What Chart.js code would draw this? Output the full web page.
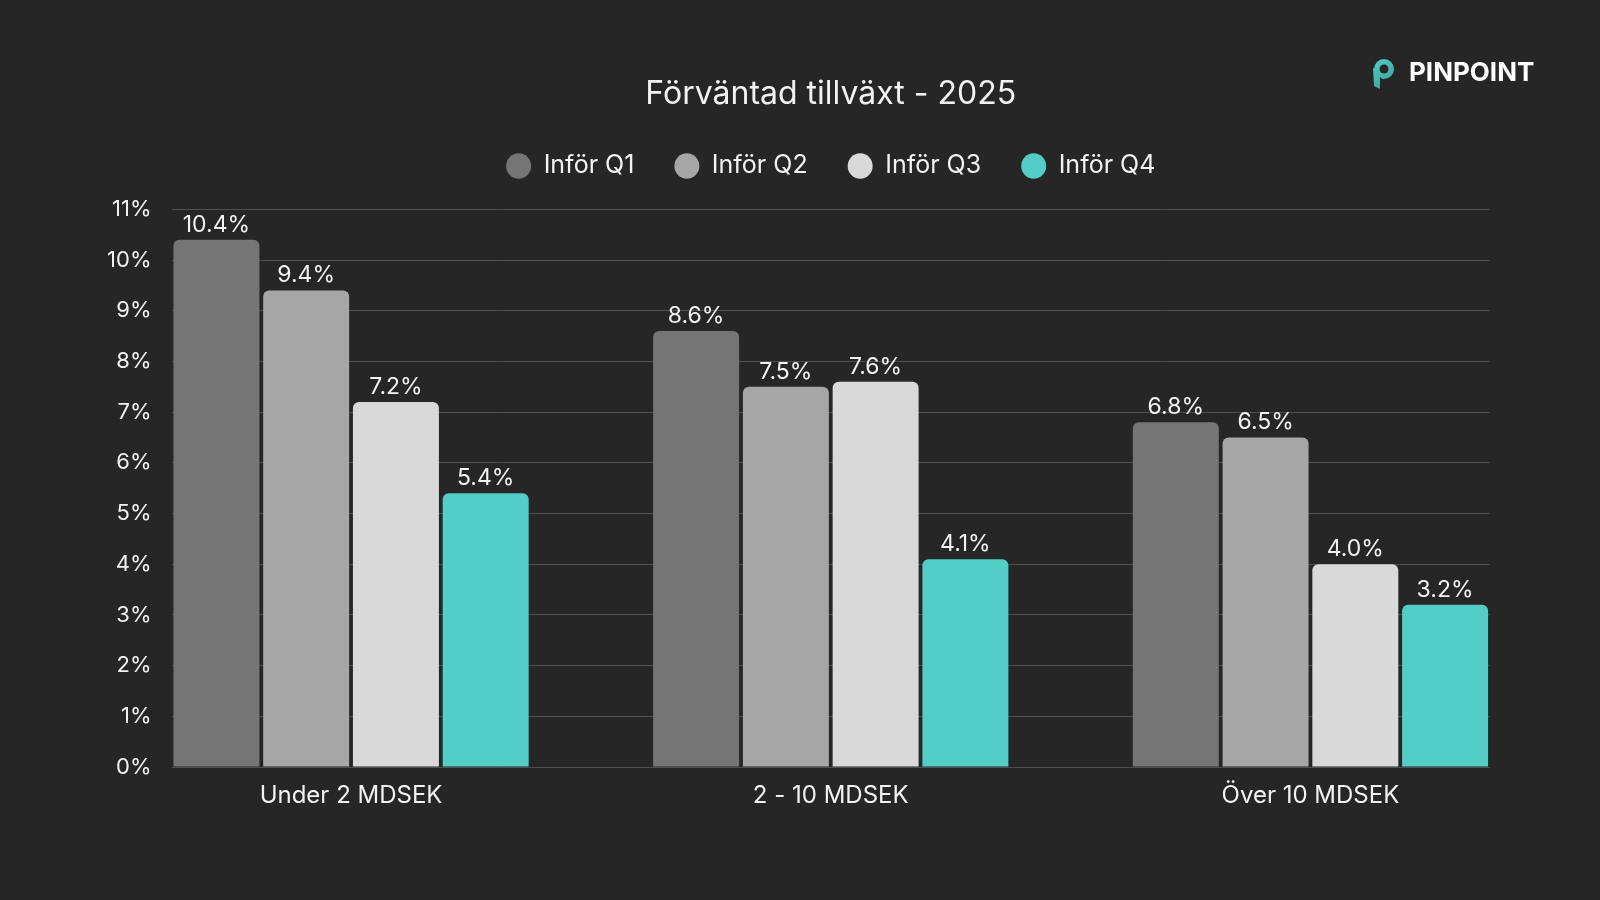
<!DOCTYPE html>
<html>
<head>
<meta charset="utf-8">
<script src="https://cdn.jsdelivr.net/npm/chart.js@4.4.1/dist/chart.umd.min.js"></script>
<style>
  html, body { margin: 0; padding: 0; background: #262626; }
  #wrap { width: 1600px; height: 900px; }
</style>
</head>
<body>
<div id="wrap"><canvas id="c" width="1600" height="900"></canvas></div>
<script>
const categories = ['Under 2 MDSEK', '2 - 10 MDSEK', 'Över 10 MDSEK'];
const seriesNames = ['Inför Q1', 'Inför Q2', 'Inför Q3', 'Inför Q4'];
const q1 = [10.4, 8.6, 6.8];
const q2 = [9.4, 7.5, 6.5];
const q3 = [7.2, 7.6, 4.0];
const q4 = [5.4, 4.1, 3.2];
const yTicks = [0, 1, 2, 3, 4, 5, 6, 7, 8, 9, 10, 11];
const colors = ['#757575', '#a6a6a6', '#d9d9d9', '#52cec6'];

const FONT = 'Inter, "Noto Sans", sans-serif';
const TXT = '#f2f2f2';

const allSeries = [q1, q2, q3, q4];
const datasets = allSeries.map((vals, i) => ({
  label: seriesNames[i],
  data: vals.map((v, j) => ({ x: j, y: v })),
  backgroundColor: colors[i],
  borderWidth: 0,
  borderRadius: 6,
  categoryPercentage: 0.7484,
  barPercentage: 0.958
}));

const valueLabels = {
  id: 'valueLabels',
  afterDatasetsDraw(chart) {
    const ctx = chart.ctx;
    ctx.save();
    ctx.font = '23px ' + FONT;
    ctx.fillStyle = TXT;
    ctx.textAlign = 'center';
    ctx.textBaseline = 'middle';
    chart.data.datasets.forEach((ds, i) => {
      chart.getDatasetMeta(i).data.forEach((el, j) => {
        ctx.fillText(allSeries[i][j].toFixed(1) + '%', el.x, el.y - 15);
      });
    });
    ctx.restore();
  }
};

const logo = {
  id: 'logo',
  afterDraw(chart) {
    const ctx = chart.ctx;
    ctx.save();
    const g = ctx.createLinearGradient(1372, 60, 1394, 88);
    g.addColorStop(0, '#52cec6');
    g.addColorStop(1, '#3a9e97');
    ctx.fillStyle = g;
    ctx.beginPath();
    ctx.moveTo(1373, 67);
    ctx.arc(1384, 69, 10, Math.PI, Math.PI * 0.55, false);
    ctx.lineTo(1380, 77);
    ctx.lineTo(1380, 89);
    ctx.lineTo(1374, 86);
    ctx.closePath();
    ctx.fill();
    ctx.fillStyle = '#262626';
    ctx.beginPath();
    ctx.arc(1384, 69, 4.5, 0, Math.PI * 2);
    ctx.fill();
    ctx.fillStyle = '#ffffff';
    ctx.font = 'bold 26px ' + FONT;
    ctx.textAlign = 'left';
    ctx.textBaseline = 'middle';
    ctx.fillText('PINPOINT', 1409, 73);
    ctx.restore();
  }
};

new Chart(document.getElementById('c'), {
  type: 'bar',
  data: { datasets },
  plugins: [valueLabels, logo],
  options: {
    responsive: false,
    animation: false,
    layout: { padding: { top: 0, right: 110, bottom: 0, left: 0 } },
    plugins: {
      title: {
        display: true,
        fullSize: false,
        text: 'Förväntad tillväxt - 2025',
        color: TXT,
        font: { family: FONT, size: 32, weight: 'normal' },
        padding: { top: 75, bottom: 0 }
      },
      subtitle: {
        display: true,
        fullSize: false,
        text: ' ',
        weight: 500,
        color: 'rgba(0,0,0,0)',
        font: { family: FONT, size: 10 },
        padding: { top: 0, bottom: 9 }
      },
      legend: {
        display: true,
        fullSize: false,
        labels: {
          color: TXT,
          font: { family: FONT, size: 25 },
          usePointStyle: true,
          pointStyle: 'circle',
          boxWidth: 25,
          boxHeight: 18,
          pointStyleWidth: 25,
          padding: 40
        }
      },
      tooltip: { enabled: false }
    },
    scales: {
      x: {
        type: 'linear',
        offset: false,
        min: -0.3743,
        max: 2.3743,
        afterBuildTicks(scale) { scale.ticks = categories.map((c, i) => ({ value: i })); },
        afterFit(scale) { scale.height = 133; },
        grid: { display: false },
        border: { display: false },
        ticks: {
          autoSkip: false,
          maxRotation: 0,
          color: TXT,
          padding: 6,
          font: { family: FONT, size: 24 },
          callback: (v) => categories[v]
        }
      },
      y: {
        min: 0,
        max: 11,
        afterBuildTicks(scale) { scale.ticks = yTicks.map(v => ({ value: v })); },
        afterFit(scale) { scale.width = 171.5; },
        grid: { color: '#4f4f4f', lineWidth: 1, drawTicks: false },
        border: { display: false },
        ticks: {
          color: TXT,
          padding: 20,
          font: { family: FONT, size: 22 },
          callback: (v) => v + '%'
        }
      }
    }
  }
});
</script>
</body>
</html>
